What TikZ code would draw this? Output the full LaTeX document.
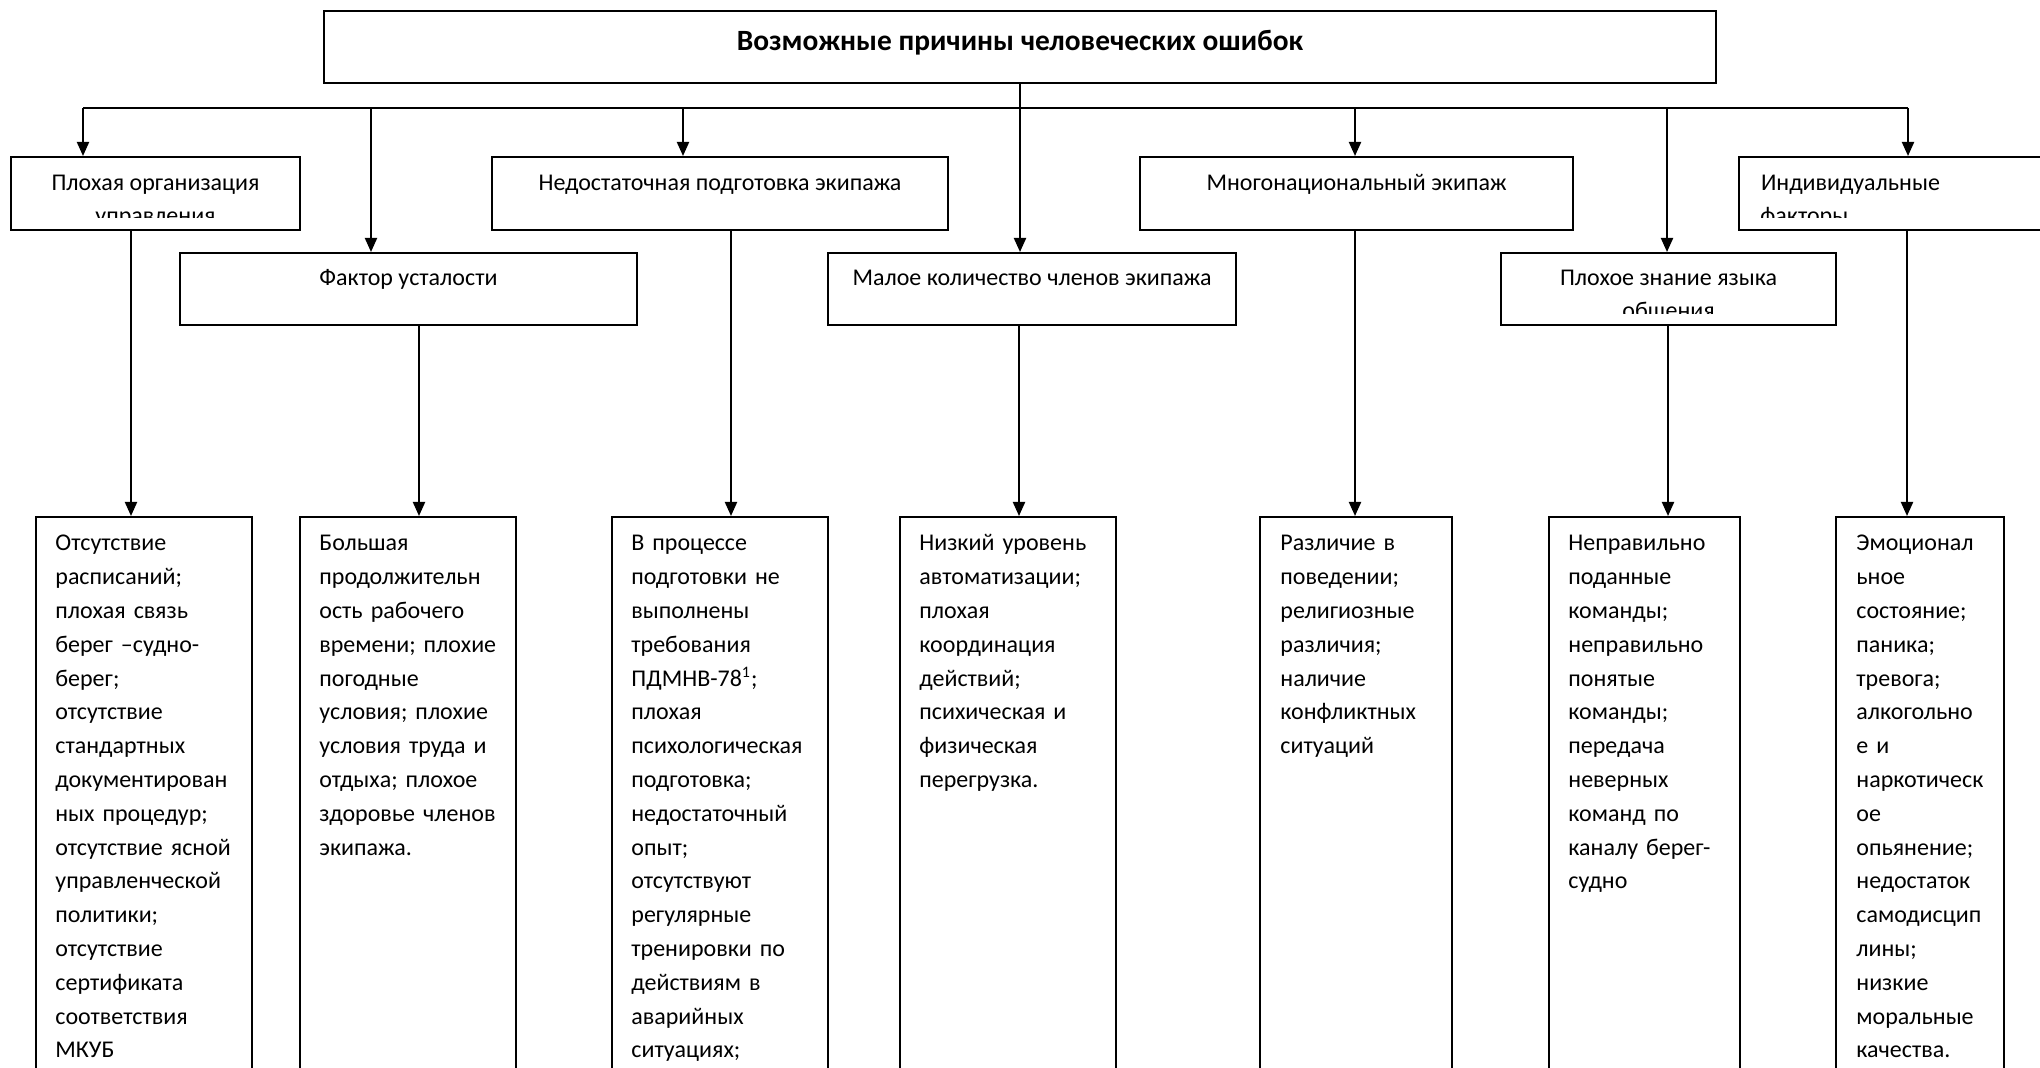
\documentclass[tikz,border=0pt]{standalone}
\usepackage{fontspec}
\setmainfont{Carlito}
\usetikzlibrary{arrows.meta}
\usetikzlibrary{calc}
\tikzset{
  box/.style={draw, line width=1pt, anchor=north west, inner sep=0pt},
  cause/.style={box, font=\fontsize{12}{16.9}\selectfont, text height=17pt, text depth=19.5pt},
  subcause/.style={box, font=\fontsize{12}{16.9}\selectfont, text height=16.5pt, text depth=19.5pt},
  listbox/.style={box, minimum height=300pt},
  listtext/.style={anchor=base west, inner sep=0pt, align=left,
    font=\fontsize{12}{16.9}\selectfont},
  arr/.style={line width=1pt, -{Triangle[length=7pt,width=6pt]}}
}

\begin{document}
\begin{tikzpicture}[x=0.5pt,y=-0.5pt]
    \clip (0,0) rectangle (2040,1068);

    \node[box, minimum width=696pt, text height=20pt, text depth=16pt,
      font=\bfseries\fontsize{14.7}{17}\selectfont] (root) at (323,10) {Возможные причины человеческих ошибок};

    \node[cause, minimum width=144.5pt] (org) at (10,156) {Плохая организация};
    \node[cause, minimum width=228pt] (train) at (491,156) {Недостаточная подготовка экипажа};
    \node[cause, minimum width=216.5pt] (multi) at (1139,156) {Многонациональный экипаж};
    \node[cause, text width=134pt, inner xsep=11pt, align=left] (indiv) at (1738,156) {Индивидуальные};

    \node[subcause, minimum width=228.5pt] (fatig) at (179,252) {Фактор усталости};
    \node[subcause, minimum width=204pt] (small) at (827,252) {Малое количество членов экипажа};
    \node[subcause, minimum width=167.5pt] (lang) at (1500,252) {Плохое знание языка};

    % second lines cut off by the boxes
    \begin{scope}
      \clip (org.north west) rectangle ($(org.north east)+(0,62)$);
      \node[anchor=base, inner sep=0pt, font=\fontsize{12}{16.9}\selectfont] (org2) at ($(org.north)+(0,68)$) {управления};
    \end{scope}
    \begin{scope}
      \clip (indiv.north west) rectangle ($(indiv.north east)+(0,62)$);
      \node[anchor=base west, inner sep=0pt, font=\fontsize{12}{16.9}\selectfont] (indiv2) at ($(indiv.north west)+(22,68)$) {факторы};
    \end{scope}
    \begin{scope}
      \clip (lang.north west) rectangle ($(lang.north east)+(0,62)$);
      \node[anchor=base, inner sep=0pt, font=\fontsize{12}{16.9}\selectfont] (lang2) at ($(lang.north)+(0,67)$) {общения};
    \end{scope}

    \node[listbox, minimum width=108pt] (l1) at (35,516) {};
    \node[listbox, minimum width=108pt] (l2) at (299,516) {};
    \node[listbox, minimum width=108pt] (l3) at (611,516) {};
    \node[listbox, minimum width=108pt] (l4) at (899,516) {};
    \node[listbox, minimum width=96pt] (l5) at (1259,516) {};
    \node[listbox, minimum width=95.5pt] (l6) at (1548,516) {};
    \node[listbox, minimum width=84pt] (l7) at (1835,516) {};

    \node[listtext, text width=100pt] (l1t) at ($(l1.north west)+(20,35)$) {Отсутствие\\ расписаний;\\ плохая связь\\ берег –судно-\\ берег;\\ отсутствие\\ стандартных\\ документирован\\ ных процедур;\\ отсутствие ясной\\ управленческой\\ политики;\\ отсутствие\\ сертификата\\ соответствия\\ МКУБ};
    \node[listtext, text width=100pt] (l2t) at ($(l2.north west)+(20,35)$) {Большая\\ продолжительн\\ ость рабочего\\ времени; плохие\\ погодные\\ условия; плохие\\ условия труда и\\ отдыха; плохое\\ здоровье членов\\ экипажа.};
    \node[listtext, text width=100pt] (l3t) at ($(l3.north west)+(20,35)$) {В процессе\\ подготовки не\\ выполнены\\ требования\\ ПДМНВ-78\textsuperscript{1};\\ плохая\\ психологическая\\ подготовка;\\ недостаточный\\ опыт;\\ отсутствуют\\ регулярные\\ тренировки по\\ действиям в\\ аварийных\\ ситуациях;};
    \node[listtext, text width=100pt] (l4t) at ($(l4.north west)+(20,35)$) {Низкий уровень\\ автоматизации;\\ плохая\\ координация\\ действий;\\ психическая и\\ физическая\\ перегрузка.};
    \node[listtext, text width=88pt] (l5t) at ($(l5.north west)+(21,35)$) {Различие в\\ поведении;\\ религиозные\\ различия;\\ наличие\\ конфликтных\\ ситуаций};
    \node[listtext, text width=88pt] (l6t) at ($(l6.north west)+(20,35)$) {Неправильно\\ поданные\\ команды;\\ неправильно\\ понятые\\ команды;\\ передача\\ неверных\\ команд по\\ каналу берег-\\ судно};
    \node[listtext, text width=76pt] (l7t) at ($(l7.north west)+(21,35)$) {Эмоционал\\ ьное\\ состояние;\\ паника;\\ тревога;\\ алкогольно\\ е и\\ наркотическ\\ ое\\ опьянение;\\ недостаток\\ самодисцип\\ лины;\\ низкие\\ моральные\\ качества.};

    % bus under the title
    \coordinate (busL) at (83,108);
    \coordinate (busR) at (1908,108);
    \coordinate (d2) at (371,108);
    \coordinate (d3) at (683,108);
    \coordinate (d5) at (1355,108);
    \coordinate (d6) at (1667,108);

    \draw[line width=1pt] (busL) -- (busR);
    \draw[arr] (root.south) -- (root.south |- small.north);
    \draw[arr] (busL) -- (busL |- org.north);
    \draw[arr] (d2) -- (d2 |- fatig.north);
    \draw[arr] (d3) -- (d3 |- train.north);
    \draw[arr] (d5) -- (d5 |- multi.north);
    \draw[arr] (d6) -- (d6 |- lang.north);
    \draw[arr] (busR) -- (busR |- indiv.north);

    % down to the lists
    \coordinate (v1) at (131,480);
    \coordinate (v2) at (419,480);
    \coordinate (v3) at (731,480);
    \coordinate (v4) at (1019,480);
    \coordinate (v5) at (1355,480);
    \coordinate (v6) at (1668,480);
    \coordinate (v7) at (1907,480);

    \draw[arr] (org.south -| v1) -- (l1.north -| v1);
    \draw[arr] (fatig.south -| v2) -- (l2.north -| v2);
    \draw[arr] (train.south -| v3) -- (l3.north -| v3);
    \draw[arr] (small.south -| v4) -- (l4.north -| v4);
    \draw[arr] (multi.south -| v5) -- (l5.north -| v5);
    \draw[arr] (lang.south -| v6) -- (l6.north -| v6);
    \draw[arr] (indiv.south -| v7) -- (l7.north -| v7);
\end{tikzpicture}
\end{document}
